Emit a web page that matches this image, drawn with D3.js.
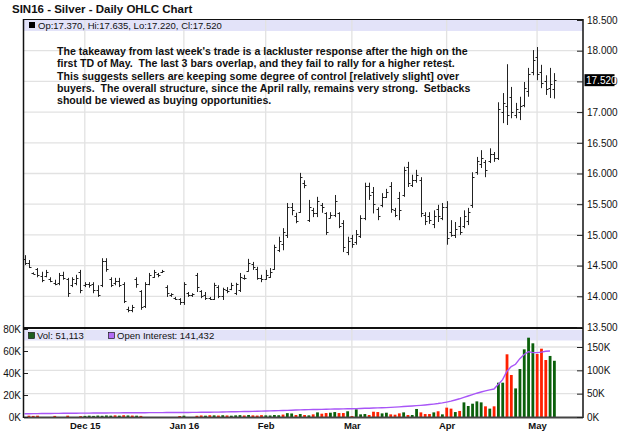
<!DOCTYPE html>
<html><head><meta charset="utf-8">
<script src="https://cdn.jsdelivr.net/npm/d3@7"></script>
<style>
body{margin:0;background:#fff}
svg{display:block}
text{font-family:"Liberation Sans",Arial,Helvetica,sans-serif}
</style>
</head><body>
<svg id="chart" width="620" height="439"></svg>
<script>
// ---------- DATA ----------
const opens = [14.60,14.55,14.38,14.44,14.33,14.33,14.28,14.22,14.22,14.35,
14.28,14.18,14.22,14.40,14.18,14.20,14.20,14.10,14.18,14.58,
14.28,14.22,14.25,14.20,13.80,13.78,14.28,14.08,13.85,14.20,
14.32,14.36,14.40,14.15,14.02,13.97,13.95,13.90,14.05,14.02,
14.35,14.08,14.02,13.97,13.96,14.15,14.00,14.10,14.12,14.05,
14.10,14.30,14.42,14.52,14.45,14.30,14.28,14.32,14.45,14.75,
14.85,15.00,15.45,15.30,15.38,15.85,15.25,15.40,15.35,15.48,
15.35,15.28,15.32,15.35,15.20,14.72,14.95,14.88,14.98,15.28,
15.80,15.70,15.42,15.48,15.62,15.80,15.40,15.60,15.65,16.10,
15.82,15.90,15.90,15.33,15.30,15.18,15.42,15.28,15.45,15.05,
15.00,15.15,15.15,15.22,15.48,16.02,16.15,16.18,16.20,16.32,
16.25,17.00,17.10,17.25,16.95,17.00,17.12,17.35,17.65,17.90,
17.65,17.50,17.40,17.37];
const highs = [14.67,14.59,14.39,14.46,14.40,14.43,14.31,14.27,14.38,14.40,
14.30,14.31,14.35,14.43,14.23,14.23,14.23,14.18,14.62,14.62,
14.31,14.30,14.30,14.23,13.83,13.86,14.31,14.10,14.23,14.38,
14.43,14.38,14.43,14.18,14.05,13.99,13.97,14.23,14.07,14.05,
14.38,14.10,14.07,13.99,14.22,14.18,14.14,14.15,14.22,14.22,
14.38,14.35,14.61,14.56,14.48,14.35,14.43,14.46,14.84,14.97,
15.11,15.52,15.52,15.36,16.01,15.89,15.57,15.44,15.62,15.52,
15.37,15.37,15.65,15.37,15.24,14.97,15.00,15.08,15.32,15.85,
15.85,15.78,15.45,15.68,15.75,15.86,15.44,15.70,16.11,16.19,
15.98,16.06,15.94,15.37,15.37,15.40,15.49,15.52,15.55,15.24,
15.21,15.29,15.40,15.44,16.02,16.27,16.38,16.22,16.41,16.35,
17.16,17.31,17.78,17.41,17.15,17.25,17.49,17.72,18.01,18.06,
17.77,17.60,17.72,17.635];
const lows = [14.51,14.46,14.36,14.31,14.23,14.31,14.23,14.18,14.18,14.27,
13.99,14.15,14.18,14.05,14.15,14.14,14.05,13.99,14.15,14.40,
14.15,14.18,14.15,13.89,13.74,13.74,14.14,13.78,13.81,14.18,
14.30,14.31,14.38,13.99,13.99,13.94,13.86,13.86,13.99,13.99,
14.07,13.97,13.94,13.94,13.94,13.97,13.94,14.05,14.10,14.02,
14.07,14.27,14.40,14.43,14.27,14.23,14.27,14.30,14.43,14.72,
14.75,14.95,15.32,15.19,15.36,15.76,15.21,15.29,15.29,15.36,
15.00,15.27,15.29,15.11,14.72,14.67,14.79,14.84,14.95,15.24,
15.57,15.35,15.24,15.45,15.60,15.36,15.29,15.24,15.62,15.78,
15.78,15.85,15.29,15.16,15.18,15.11,15.21,15.24,14.84,14.97,
14.95,15.00,15.11,15.16,15.44,15.98,16.09,15.94,16.17,16.19,
16.22,16.82,16.79,16.90,16.90,16.87,17.08,17.25,17.60,17.52,
17.39,17.28,17.23,17.22];
const closes = [14.55,14.48,14.37,14.34,14.27,14.40,14.25,14.20,14.35,14.30,
14.05,14.28,14.30,14.10,14.20,14.18,14.10,14.02,14.58,14.45,
14.18,14.25,14.18,13.92,13.78,13.82,14.20,13.82,14.20,14.35,
14.40,14.34,14.42,14.05,14.03,13.96,13.90,14.20,14.02,14.04,
14.15,14.00,13.98,13.96,14.18,14.00,14.12,14.08,14.18,14.20,
14.32,14.30,14.55,14.48,14.30,14.28,14.35,14.40,14.80,14.90,
15.05,15.45,15.40,15.22,15.95,15.82,15.45,15.35,15.55,15.45,
15.05,15.32,15.55,15.15,14.80,14.90,14.85,15.02,15.28,15.80,
15.65,15.50,15.30,15.62,15.70,15.42,15.32,15.40,16.05,15.85,
15.90,15.98,15.35,15.22,15.25,15.30,15.30,15.45,14.95,15.00,
15.10,15.05,15.30,15.38,15.95,16.20,16.25,16.05,16.32,16.25,
17.05,17.15,16.95,17.00,17.05,17.10,17.40,17.62,17.85,17.62,
17.48,17.38,17.45,17.52];
// volume in thousands of contracts
const volumes = [0,1.2,1.0,1.2,0,0,0,1.0,0,0,1.2,0,0,0.8,
1.0,1.2,1.0,1.3,1.1,1.4,1.2,1.5,1.2,1.6,1.4,1.3,1.2,1.0,
0,0,0,0,0,0,0,0,0.9,1.2,0,0,
1.1,1.4,1.2,1.6,1.5,1.3,1.6,1.4,1.2,1.5,1.7,1.4,1.8,1.5,1.3,1.7,1.5,1.4,1.8,1.6,2.2,3.5,3.2,1.8,
2.7,1.8,1.5,2.4,4.2,3.0,3.6,3.9,4.5,3.6,
3.6,5.2,0.9,7.0,2.4,2.7,1.8,4.8,4.5,3.3,
3.9,2.4,2.1,3.3,4.2,1.8,1.8,7.3,4.2,2.7,
2.7,4.2,5.2,2.4,8.5,7.6,4.5,5.5,13.3,10.0,
12.1,14.2,13.3,9.7,7.6,9.7,31.2,31.2,57.0,38.2,
26.0,43.6,61.5,72.1,67.0,57.3,62.1,51.8,55.5,51.113];
// 1 = up day (green volume), 0 = down day (red volume)
const volUp = [0,0,0,0,0,0,0,0,0,0,0,0,0,0,
1,1,1,1,1,1,1,0,1,0,1,0,1,0,
0,0,0,0,0,0,0,0,0,1,0,0,
0,0,1,0,1,0,1,0,1,1,1,0,1,0,0,0,1,1,1,1,0,1,1,0,
1,0,1,0,1,0,0,1,1,0,
0,1,0,1,1,1,0,0,0,1,
1,0,0,0,1,0,1,1,0,0,
0,1,0,1,0,0,1,0,1,1,
1,1,1,0,1,0,1,1,0,0,
1,1,1,1,1,0,0,0,1,1];
// open interest in thousands
const openInterest = [7.0,7.1,7.2,7.3,7.4,7.5,7.6,7.7,7.8,7.9,8.0,8.0,8.1,8.2,8.3,
8.4,8.5,8.6,8.6,8.7,8.8,8.9,8.9,9.0,9.0,9.1,9.1,9.2,9.2,9.3,9.3,9.4,9.4,9.5,9.5,9.6,9.6,9.7,
9.8,9.9,10.0,10.1,10.2,10.3,10.4,10.5,10.7,10.9,11.1,11.3,11.5,11.7,11.9,12.1,12.3,12.5,
12.8,13.1,13.4,13.7,14.0,14.3,14.6,14.9,15.2,15.5,15.8,16.0,16.2,16.4,16.6,16.8,17.0,17.2,17.4,17.6,
17.8,18.0,18.3,18.6,18.9,19.2,19.5,19.8,20.1,20.6,
21.2,21.8,22.4,23.0,23.6,24.3,25.0,25.8,26.7,27.7,28.8,30.2,
32,34,36.5,39,42,45,48,51,53.5,56,58,60,
70,80,98,108,113,125,134,140,138,138,139,141,141.432];
const monthLabels = ["Dec 15","Jan 16","Feb","Mar","Apr","May"];
const monthIndex = [14,37,56,76,98,119];
const priceTicks = [13.5,14.0,14.5,15.0,15.5,16.0,16.5,17.0,17.5,18.0,18.5];
const volTicks = [0,20,40,60,80];
const oiTicks = [0,50,100,150];
const titleText = "SIN16 - Silver - Daily OHLC Chart";
const noteLines = [
 "The takeaway from last week's trade is a lackluster response after the high on the",
 "first TD of May.  The last 3 bars overlap, and they fail to rally for a higher retest.",
 "This suggests sellers are keeping some degree of control [relatively slight] over",
 "buyers.  The overall structure, since the April rally, remains very strong.  Setbacks",
 "should be viewed as buying opportunities."
];

// ---------- LAYOUT ----------
const L = 24, R = 583;
const pTop = 19, pBot = 327.5, vTop = 328.5, vBot = 417;
const svg = d3.select("#chart");
const n = closes.length;
const last = n - 1;
const fmt3 = d3.format(".3f");
const fmtK = d => d + "K";

const x = d3.scaleLinear().domain([0, n - 1]).range([24.5, 554.3]);
const y = d3.scaleLinear().domain([13.5, 18.5]).range([327, 20]);
const yV = d3.scaleLinear().domain([0, 80]).range([417, 329]);
const yOI = d3.scaleLinear().domain([0, 150]).range([417, 347]);

// lavender legend bands
svg.append("rect").attr("x", L).attr("y", pTop + 1).attr("width", R - L).attr("height", 11).attr("fill", "#e3e3f9");
svg.append("rect").attr("x", L).attr("y", vTop + 1.5).attr("width", R - L).attr("height", 10.5).attr("fill", "#e3e3f9");

const grid = svg.append("g").attr("stroke", "#e2e2e2").attr("stroke-width", 1.3);
grid.selectAll(".hp").data(priceTicks.filter(t => t > 13.5 && t < 18.5)).join("line")
  .attr("x1", L).attr("x2", R).attr("y1", d => y(d)).attr("y2", d => y(d));
grid.selectAll(".hv").data(oiTicks.filter(t => t > 0)).join("line")
  .attr("x1", L).attr("x2", R).attr("y1", d => yOI(d)).attr("y2", d => yOI(d));
grid.selectAll(".vm").data(monthIndex).join("line")
  .attr("x1", d => x(d)).attr("x2", d => x(d)).attr("y1", pTop).attr("y2", vBot);

// OHLC bars
const bars = svg.append("g").attr("stroke", "#222").attr("stroke-width", 1).attr("fill", "none");
const idx = d3.range(n);
bars.selectAll(".hl").data(idx).join("line")
  .attr("x1", i => Math.round(x(i)) + 0.5).attr("x2", i => Math.round(x(i)) + 0.5)
  .attr("y1", i => y(highs[i])).attr("y2", i => y(lows[i]));
bars.selectAll(".op").data(idx).join("line")
  .attr("x1", i => Math.round(x(i)) - 1.5).attr("x2", i => Math.round(x(i)) + 0.5)
  .attr("y1", i => Math.round(y(opens[i])) + 0.5).attr("y2", i => Math.round(y(opens[i])) + 0.5);
bars.selectAll(".cl").data(idx).join("line")
  .attr("x1", i => Math.round(x(i)) + 0.5).attr("x2", i => Math.round(x(i)) + 2.5)
  .attr("y1", i => Math.round(y(closes[i])) + 0.5).attr("y2", i => Math.round(y(closes[i])) + 0.5);

// volume bars
svg.append("g").selectAll("rect").data(idx.filter(i => volumes[i] > 0)).join("rect")
  .attr("x", i => x(i) - 1.3).attr("width", 2.8)
  .attr("y", i => yV(volumes[i])).attr("height", i => Math.max(0.8, yV(0) - yV(volumes[i])))
  .attr("fill", i => volUp[i] ? "#0b600b" : "#ff2000");

// open interest line
svg.append("path").datum(openInterest)
  .attr("fill", "none").attr("stroke", "#a855f7").attr("stroke-width", 1.4)
  .attr("d", d3.line().x((d, i) => x(i)).y(d => yOI(d)));

// frames
const frame = svg.append("g").attr("stroke", "#111").attr("fill", "none");
frame.append("line").attr("x1", L).attr("x2", R).attr("y1", pTop + 0.5).attr("y2", pTop + 0.5).attr("stroke-width", 1.2);
frame.append("line").attr("x1", L).attr("x2", R).attr("y1", 328).attr("y2", 328).attr("stroke-width", 2);
frame.append("line").attr("x1", L - 0.5).attr("x2", L - 0.5).attr("y1", pTop).attr("y2", vBot + 1).attr("stroke-width", 1.5);
frame.append("line").attr("x1", R).attr("x2", R).attr("y1", pTop).attr("y2", vBot + 1).attr("stroke-width", 1.5);
frame.append("line").attr("x1", L).attr("x2", R).attr("y1", vBot + 0.5).attr("y2", vBot + 0.5).attr("stroke-width", 2).attr("stroke", "#444");

// right price axis
const pAxis = d3.axisRight(y).tickValues(priceTicks).tickSize(0).tickFormat(fmt3).tickPadding(4);
const pa = svg.append("g").attr("transform", `translate(${R},0)`).call(pAxis);
pa.select(".domain").remove();
pa.selectAll("text").attr("font-size", 10).attr("fill", "#111").attr("font-family", "Liberation Sans, Arial, sans-serif");
pa.selectAll(".tick").append("line").attr("x1", -6).attr("x2", 0).attr("stroke", "#222");

// last price box
const lastY = y(closes[last]);
svg.append("rect").attr("x", R + 1.5).attr("y", lastY - 6).attr("width", 30).attr("height", 12).attr("fill", "#000");
svg.append("text").attr("x", R + 3).attr("y", lastY + 3.8).attr("font-size", 10).attr("fill", "#fff").text(fmt3(closes[last]));

// left volume axis
const vAxis = d3.axisLeft(yV).tickValues(volTicks).tickSize(0).tickFormat(fmtK).tickPadding(3);
const va = svg.append("g").attr("transform", `translate(${L},0)`).call(vAxis);
va.select(".domain").remove();
va.selectAll("text").attr("font-size", 10).attr("fill", "#111").attr("font-family", "Liberation Sans, Arial, sans-serif");
va.selectAll(".tick").append("line").attr("x1", 0).attr("x2", 4).attr("stroke", "#222");

// right OI axis
const oAxis = d3.axisRight(yOI).tickValues(oiTicks).tickSize(0).tickFormat(fmtK).tickPadding(4);
const oa = svg.append("g").attr("transform", `translate(${R},0)`).call(oAxis);
oa.select(".domain").remove();
oa.selectAll("text").attr("font-size", 10).attr("fill", "#111").attr("font-family", "Liberation Sans, Arial, sans-serif");
oa.selectAll(".tick").append("line").attr("x1", -6).attr("x2", 0).attr("stroke", "#222");

// month labels
const mAxis = d3.axisBottom(x).tickValues(monthIndex).tickSize(0).tickPadding(5.5)
  .tickFormat((d, i) => monthLabels[i]);
const ma = svg.append("g").attr("transform", `translate(0,${vBot})`).call(mAxis);
ma.select(".domain").remove();
ma.selectAll("text").attr("font-size", 9.5).attr("font-weight", "bold").attr("fill", "#111")
  .attr("font-family", "Liberation Sans, Arial, sans-serif");

// title
svg.append("text").attr("x", 12).attr("y", 13).attr("font-size", 11.5).attr("font-weight", "bold").attr("fill", "#111").text(titleText);

// price legend
svg.append("rect").attr("x", 29).attr("y", 22).attr("width", 6).attr("height", 6).attr("fill", "#000");
svg.append("text").attr("x", 38).attr("y", 28.5).attr("font-size", 9.5).attr("fill", "#111")
  .text(`Op:${fmt3(opens[last])}, Hi:${fmt3(highs[last])}, Lo:${fmt3(lows[last])}, Cl:${fmt3(closes[last])}`);

// volume legend
const fmtInt = d3.format(",");
svg.append("rect").attr("x", 28.5).attr("y", 332.5).attr("width", 6).attr("height", 6).attr("fill", "#1e5e1e").attr("stroke", "#000").attr("stroke-width", 0.6);
svg.append("text").attr("x", 37).attr("y", 339).attr("font-size", 9.5).attr("fill", "#111")
  .text(`Vol: ${fmtInt(Math.round(volumes[last] * 1000))}`);
svg.append("rect").attr("x", 108.5).attr("y", 332.5).attr("width", 6).attr("height", 6).attr("fill", "#b26cf5").attr("stroke", "#000").attr("stroke-width", 0.6);
svg.append("text").attr("x", 117).attr("y", 339).attr("font-size", 9.5).attr("fill", "#111")
  .text(`Open Interest: ${fmtInt(Math.round(openInterest[openInterest.length - 1] * 1000))}`);

// annotation
const note = svg.append("text").attr("font-size", 10.6).attr("font-weight", "bold").attr("fill", "#111")
  .style("white-space", "pre");
note.selectAll("tspan").data(noteLines).join("tspan")
  .attr("x", 57).attr("y", (d, i) => 55 + i * 12.25).text(d => d);
</script>
</body></html>
